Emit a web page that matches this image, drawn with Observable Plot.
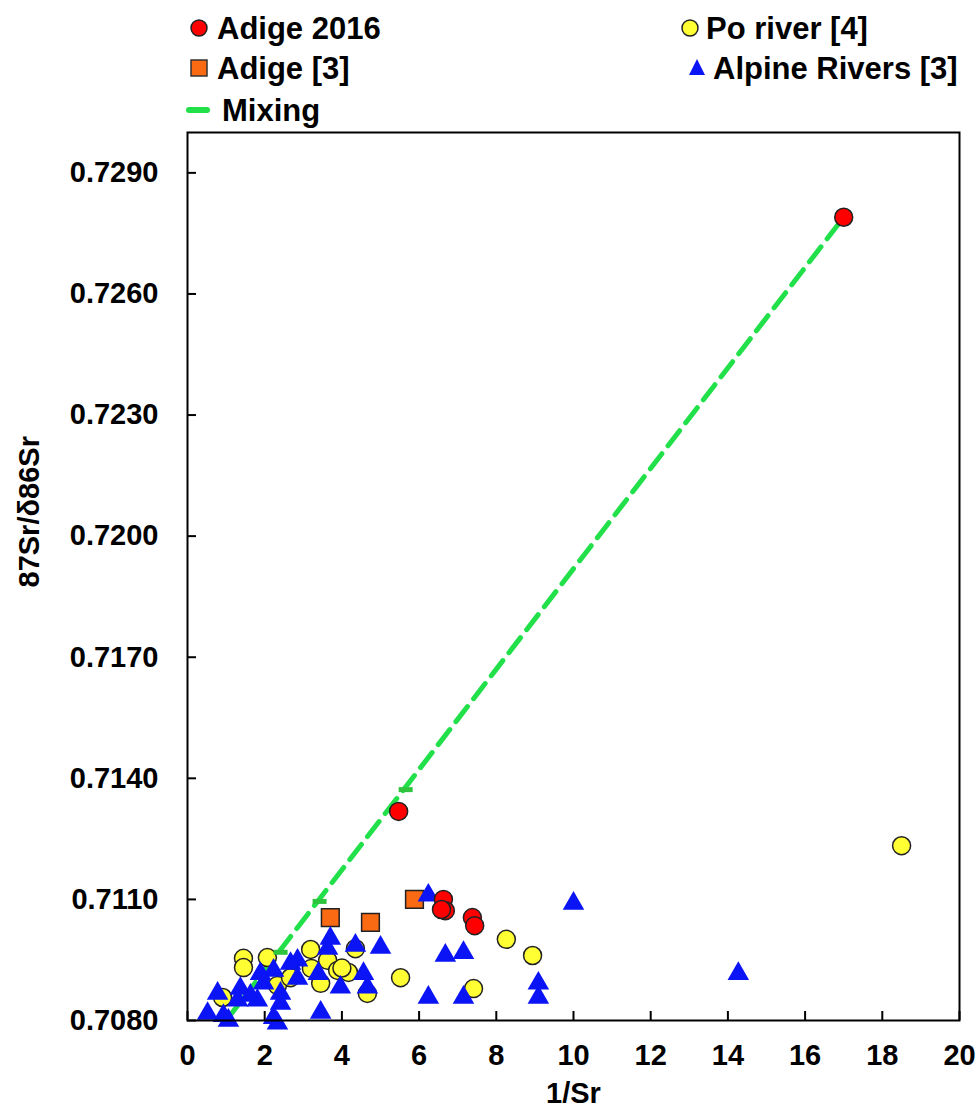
<!DOCTYPE html>
<html><head><meta charset="utf-8">
<script src="https://cdn.jsdelivr.net/npm/d3@7"></script>
<script src="https://cdn.jsdelivr.net/npm/@observablehq/plot@0.6"></script>
<style>
body{margin:0;background:#fff;}
#legend{display:block;}
#chart svg{display:block;}
</style></head><body>
<svg id="legend" width="980" height="130"></svg>
<div id="chart"></div>
<script>
// ---- Data ----
const adige2016X = [17.0, 5.47, 6.63, 6.68, 6.58, 7.38, 7.44];
const adige2016Y = [0.7279, 0.71318, 0.71100, 0.71072, 0.71075, 0.71055, 0.71035];

const adige3X = [3.70, 4.74, 5.88];
const adige3Y = [0.71055, 0.71043, 0.71100];

const poX = [18.5, 8.26, 8.94, 7.41, 5.52, 1.45, 1.45, 2.07, 3.19, 3.21, 3.63, 3.89, 4.17, 4.35, 3.45, 4.66, 2.33, 0.91, 2.67, 4.0];
const poY = [0.71233, 0.71001, 0.70961, 0.70879, 0.70906, 0.70954, 0.70931, 0.70956, 0.70976, 0.70929, 0.70949, 0.70924, 0.70919, 0.70978, 0.70892, 0.70867, 0.70887, 0.70857, 0.70906, 0.70930];

const alpineX = [6.24, 10.0, 14.27, 9.09, 9.09, 6.68, 7.15, 6.24, 7.15, 5.0, 4.35, 3.70, 3.63, 2.85, 2.67, 3.39, 2.85, 3.96, 4.56, 4.66, 3.45, 2.23, 1.89, 1.97, 2.41, 2.41, 1.37, 1.30, 0.78, 0.52, 0.93, 1.06, 2.23, 2.33, 1.81, 1.63];
const alpineY = [0.71110, 0.71090, 0.70916, 0.70892, 0.70857, 0.70961, 0.70968, 0.70857, 0.70857, 0.70981, 0.70986, 0.71003, 0.70978, 0.70949, 0.70941, 0.70916, 0.70904, 0.70882, 0.70916, 0.70882, 0.70820, 0.70924, 0.70916, 0.70892, 0.70867, 0.70842, 0.70879, 0.70850, 0.70867, 0.70817, 0.70812, 0.70800, 0.70807, 0.70793, 0.70850, 0.70862];

const mixingX = [1.0, 2.36, 3.37, 5.6, 17.0];
const mixingY = [0.7080, 0.70969, 0.71095, 0.71372, 0.7279];
const mixingMarkIdx = [1, 2, 3];

const xTicks = [0, 2, 4, 6, 8, 10, 12, 14, 16, 18, 20];
const yTicks = [0.708, 0.711, 0.714, 0.717, 0.720, 0.723, 0.726, 0.729];

const seriesNames = ["Adige 2016", "Po river [4]", "Adige [3]", "Alpine Rivers [3]", "Mixing"];
const colors = {red: "#ff0000", yellow: "#ffff33", orange: "#f96a12", blue: "#0a14f5", green: "#22e04a", greenMark: "#2ec43e"};

const FONT = "'Liberation Sans', Arial, Helvetica, sans-serif";

// ---- Build tables ----
const zip = (xs, ys) => xs.map((x, i) => ({x, y: ys[i]}));
const adige2016 = zip(adige2016X, adige2016Y);
const adige3 = zip(adige3X, adige3Y);
const po = zip(poX, poY);
const alpine = zip(alpineX, alpineY);
const mixing = zip(mixingX, mixingY);
const mixingMarks = mixingMarkIdx.map(i => mixing[i]);

const dashSymbol = {draw(ctx) { ctx.moveTo(-7, -2.5); ctx.lineTo(7, -2.5); ctx.lineTo(7, 2.5); ctx.lineTo(-7, 2.5); ctx.closePath(); }};

const W = 980, H = 986, mL = 187, mR = 21, mT = 2, mB = 96;
const plotW = W - mL - mR, plotH = H - mT - mB;

const chart = Plot.plot({
  width: W, height: H,
  marginTop: mT, marginBottom: mB, marginLeft: mL, marginRight: mR,
  style: {fontFamily: FONT, fontSize: "29px", fontWeight: "bold", color: "#000", background: "#fff", overflow: "visible"},
  x: {domain: [0, 20]},
  y: {domain: [0.708, 0.730]},
  marks: [
    Plot.gridY(yTicks, {stroke: "#000", strokeOpacity: 1, strokeWidth: 2, insetRight: plotW - 9}),
    Plot.gridX(xTicks, {stroke: "#000", strokeOpacity: 1, strokeWidth: 2, insetTop: plotH - 9}),
    Plot.axisY(yTicks, {tickSize: 0, tickPadding: 29, tickFormat: d3.format(".4f"), label: null}),
    Plot.axisX(xTicks, {tickSize: 0, tickPadding: 24, tickFormat: d3.format("d"), label: null}),
    Plot.text(["1/Sr"], {frameAnchor: "bottom", dy: 82, text: d => d, fontSize: 29, fontWeight: "bold"}),
    Plot.text(["87Sr/δ86Sr"], {frameAnchor: "left", dx: -158, dy: 11, rotate: -90, text: d => d, fontSize: 29, fontWeight: "bold"}),
    Plot.line(mixing, {x: "x", y: "y", stroke: colors.green, strokeWidth: 5, strokeDasharray: "19,10", strokeLinecap: "round"}),
    Plot.dot(po, {x: "x", y: "y", r: 9, fill: colors.yellow, stroke: "#222", strokeWidth: 1.5}),
    Plot.dot(adige3, {x: "x", y: "y", r: 10, symbol: "square", fill: colors.orange, stroke: "#222", strokeWidth: 1.5}),
    Plot.dot(alpine, {x: "x", y: "y", r: 8, symbol: "triangle", fill: colors.blue}),
    Plot.dot(adige2016, {x: "x", y: "y", r: 9, fill: colors.red, stroke: "#222", strokeWidth: 1.5}),
    Plot.dot(mixingMarks, {x: "x", y: "y", r: 5, symbol: dashSymbol, fill: colors.greenMark, dx: 2}),
    Plot.frame({stroke: "#000", strokeWidth: 2})
  ]
});
document.getElementById("chart").appendChild(chart);

// ---- Legend (above the chart) ----
const leg = d3.select("#legend");
const items = [
  {name: seriesNames[0], sym: "circle", color: colors.red, cx: 199, cy: 28, tx: 217},
  {name: seriesNames[1], sym: "circle", color: colors.yellow, cx: 690, cy: 28, tx: 706},
  {name: seriesNames[2], sym: "square", color: colors.orange, cx: 199, cy: 68, tx: 217},
  {name: seriesNames[3], sym: "triangle", color: colors.blue, cx: 697, cy: 68, tx: 713},
  {name: seriesNames[4], sym: "dash", color: colors.green, cx: 198, cy: 110, tx: 222}
];
for (const it of items) {
  if (it.sym === "circle") leg.append("circle").attr("cx", it.cx).attr("cy", it.cy).attr("r", 8).attr("fill", it.color).attr("stroke", "#222").attr("stroke-width", 1.5);
  else if (it.sym === "square") leg.append("rect").attr("x", it.cx - 8).attr("y", it.cy - 8).attr("width", 16).attr("height", 16).attr("fill", it.color).attr("stroke", "#333").attr("stroke-width", 1.5);
  else if (it.sym === "triangle") leg.append("path").attr("d", `M${it.cx},${it.cy - 9}L${it.cx + 8},${it.cy + 7}L${it.cx - 8},${it.cy + 7}Z`).attr("fill", it.color);
  else leg.append("line").attr("x1", it.cx - 9).attr("x2", it.cx + 9).attr("y1", it.cy).attr("y2", it.cy).attr("stroke", it.color).attr("stroke-width", 6).attr("stroke-linecap", "round");
  leg.append("text").attr("x", it.tx).attr("y", it.cy).attr("dy", "0.36em").attr("font-family", FONT).attr("font-size", 31).attr("font-weight", "bold").attr("fill", "#000").text(it.name);
}
</script>
</body></html>
